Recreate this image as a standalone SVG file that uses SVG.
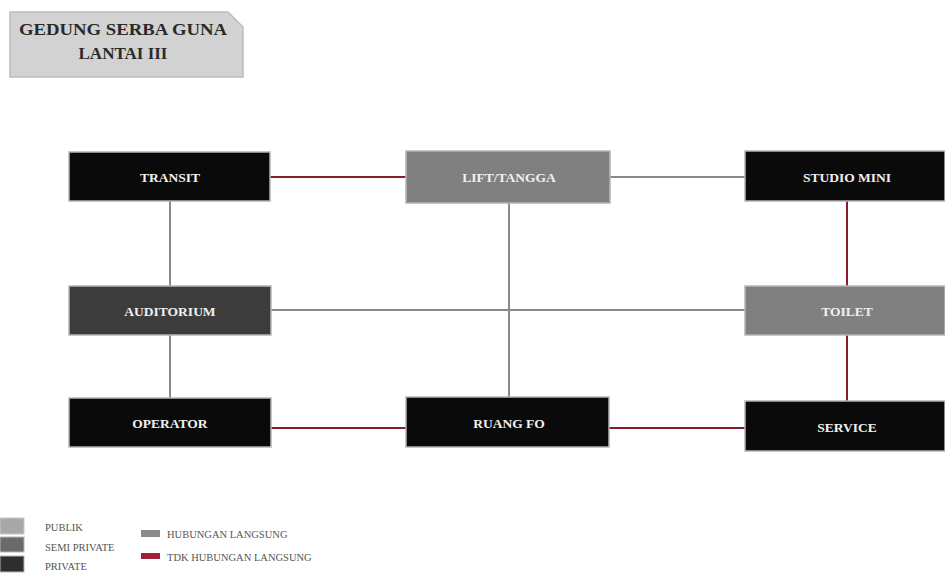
<svg xmlns="http://www.w3.org/2000/svg" width="945" height="574" viewBox="0 0 945 574">
<style>
.node{stroke:#b5b5b5;stroke-width:1.5}
.priv{fill:#0a0a0a}
.semi{fill:#3c3c3c}
.pub{fill:#808080}
.lbl{font-family:"Liberation Serif",serif;font-size:13.5px;font-weight:bold;fill:#f0f0f0;text-anchor:middle;dominant-baseline:central}
.c{fill:none;stroke-width:2}
.g{stroke:#8a8a8a}
.r{stroke:#8b1c30}
.lg{font-family:"Liberation Serif",serif;font-size:10.5px;fill:#555}
</style>
<rect width="945" height="574" fill="#ffffff"/>
<g id="title">
<path d="M10 12 H228 L243 27 V77 H10 Z" fill="#d2d2d2" stroke="#bdbdbd" stroke-width="1.5"/>
<text x="123" y="35" font-family="'Liberation Serif',serif" font-size="17" font-weight="bold" fill="#2a2a2a" text-anchor="middle" textLength="208" lengthAdjust="spacingAndGlyphs">GEDUNG SERBA GUNA</text>
<text x="123" y="59" font-family="'Liberation Serif',serif" font-size="17" font-weight="bold" fill="#2a2a2a" text-anchor="middle">LANTAI III</text>
</g>
<g id="connectors">
<line class="c r" x1="270" y1="177" x2="406" y2="177"/>
<line class="c g" x1="610" y1="177" x2="745" y2="177"/>
<line class="c g" x1="170" y1="201" x2="170" y2="286"/>
<line class="c g" x1="170" y1="335" x2="170" y2="398"/>
<line class="c g" x1="509" y1="203" x2="509" y2="397"/>
<line class="c g" x1="271" y1="310" x2="745" y2="310"/>
<line class="c r" x1="847" y1="201" x2="847" y2="286"/>
<line class="c r" x1="847" y1="335" x2="847" y2="401"/>
<line class="c r" x1="271" y1="428" x2="406" y2="428"/>
<line class="c r" x1="609" y1="428" x2="745" y2="428"/>
</g>
<g id="transit"><rect class="node priv" x="69" y="152" width="201" height="49"/><text class="lbl" x="170" y="177">TRANSIT</text></g>
<g id="lift"><rect class="node pub" x="406" y="151" width="204" height="52"/><text class="lbl" x="509" y="177">LIFT/TANGGA</text></g>
<g id="studio"><rect class="node priv" x="745" y="151" width="200" height="50"/><text class="lbl" x="847" y="177">STUDIO MINI</text></g>
<g id="auditorium"><rect class="node semi" x="69" y="286" width="202" height="49"/><text class="lbl" x="170" y="311">AUDITORIUM</text></g>
<g id="toilet"><rect class="node pub" x="745" y="286" width="200" height="49"/><text class="lbl" x="847" y="311">TOILET</text></g>
<g id="operator"><rect class="node priv" x="69" y="398" width="202" height="49"/><text class="lbl" x="170" y="423">OPERATOR</text></g>
<g id="ruangfo"><rect class="node priv" x="406" y="397" width="203" height="50"/><text class="lbl" x="509" y="423">RUANG FO</text></g>
<g id="service"><rect class="node priv" x="745" y="401" width="200" height="50"/><text class="lbl" x="847" y="427">SERVICE</text></g>
<g id="legend">
<rect x="0" y="518" width="24" height="16" fill="#a8a8a8" stroke="#c8c8c8"/>
<rect x="0" y="537" width="24" height="15" fill="#6a6a6a" stroke="#b8b8b8"/>
<rect x="0" y="556" width="24" height="16" fill="#2e2e2e" stroke="#b8b8b8"/>
<text class="lg" x="45" y="531">PUBLIK</text>
<text class="lg" x="45" y="551">SEMI PRIVATE</text>
<text class="lg" x="45" y="570">PRIVATE</text>
<rect x="141" y="530" width="19" height="7" fill="#8a8a8a"/>
<rect x="141" y="553" width="19" height="6" fill="#a0203c"/>
<text class="lg" x="167" y="538">HUBUNGAN LANGSUNG</text>
<text class="lg" x="167" y="561">TDK HUBUNGAN LANGSUNG</text>
</g>
</svg>
